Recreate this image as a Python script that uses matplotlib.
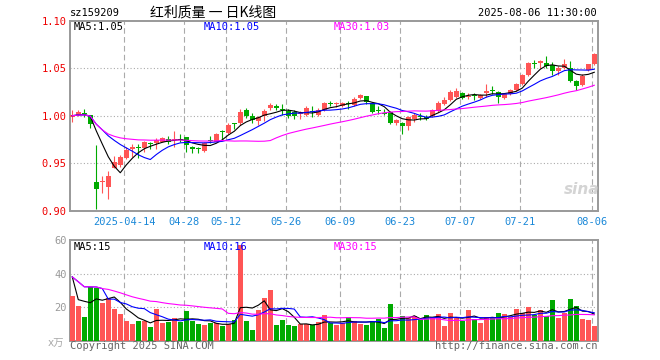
import numpy as np
import pandas as pd
import matplotlib
matplotlib.use('Agg')
import matplotlib.pyplot as plt

# trading days shown (Mar 31 -> Aug 6, 2025), exchange holidays removed
holidays = ['2025-04-04', '2025-05-01', '2025-05-02', '2025-05-05', '2025-06-02']
days = pd.bdate_range('2025-03-31', '2025-08-06')
days = days[~days.isin(pd.to_datetime(holidays))]

tick_dates = ['2025-04-14', '2025-04-28', '2025-05-12', '2025-05-26', '2025-06-09',
              '2025-06-23', '2025-07-07', '2025-07-21', '2025-08-06']
tick_labels = ['2025-04-14', '04-28', '05-12', '05-26', '06-09',
               '06-23', '07-07', '07-21', '08-06']

opens = [0.999, 1.001, 1.003, 1.001, 0.930, 0.930, 0.925, 0.945, 0.948, 0.956,
         0.965, 0.967, 0.966, 0.971, 0.971, 0.973, 0.976, 0.975, 0.976, 0.978,
         0.967, 0.966, 0.963, 0.975, 0.973, 0.984, 0.982, 0.992, 0.992, 1.006,
         1.000, 0.995, 1.000, 1.008, 1.010, 1.007, 1.005, 1.004, 1.002, 1.001,
         1.005, 1.001, 1.006, 1.013, 1.012, 1.010, 1.013, 1.011, 1.019, 1.021,
         1.013, 1.006, 1.003, 1.004, 0.992, 0.993, 0.989, 0.997, 1.000, 0.999,
         1.000, 1.005, 1.012, 1.017, 1.020, 1.024, 1.020, 1.022, 1.019, 1.024,
         1.027, 1.025, 1.019, 1.023, 1.027, 1.033, 1.043, 1.056, 1.056, 1.056,
         1.053, 1.047, 1.050, 1.050, 1.037, 1.032, 1.048, 1.054]
highs = [1.006, 1.006, 1.007, 1.001, 0.969, 0.937, 0.942, 0.958, 0.959, 0.967,
         0.970, 0.970, 0.974, 0.972, 0.977, 0.978, 0.979, 0.984, 0.981, 0.978,
         0.968, 0.967, 0.972, 0.979, 0.982, 0.985, 0.992, 0.993, 1.007, 1.008,
         1.003, 1.000, 1.007, 1.013, 1.012, 1.012, 1.007, 1.006, 1.005, 1.010,
         1.010, 1.008, 1.015, 1.016, 1.015, 1.015, 1.016, 1.020, 1.023, 1.021,
         1.014, 1.010, 1.007, 1.005, 0.997, 0.994, 1.000, 1.003, 1.003, 1.001,
         1.007, 1.016, 1.020, 1.027, 1.029, 1.025, 1.024, 1.024, 1.023, 1.033,
         1.031, 1.026, 1.024, 1.028, 1.034, 1.044, 1.057, 1.059, 1.059, 1.063,
         1.057, 1.052, 1.060, 1.058, 1.038, 1.044, 1.055, 1.066]
lows = [0.994, 1.000, 0.999, 0.987, 0.902, 0.919, 0.913, 0.945, 0.946, 0.955,
        0.957, 0.956, 0.962, 0.965, 0.965, 0.972, 0.970, 0.967, 0.973, 0.962,
        0.961, 0.961, 0.962, 0.971, 0.972, 0.975, 0.981, 0.986, 0.990, 0.998,
        0.992, 0.990, 0.995, 1.006, 1.006, 1.001, 0.998, 0.997, 0.997, 1.000,
        0.999, 1.000, 1.005, 1.010, 1.009, 1.009, 1.007, 1.010, 1.018, 1.012,
        1.003, 1.002, 1.001, 0.991, 0.990, 0.981, 0.985, 0.994, 0.996, 0.996,
        0.999, 1.004, 1.011, 1.016, 1.019, 1.018, 1.018, 1.017, 1.018, 1.020,
        1.023, 1.013, 1.018, 1.022, 1.026, 1.032, 1.042, 1.050, 1.050, 1.050,
        1.043, 1.043, 1.049, 1.036, 1.027, 1.031, 1.047, 1.053]
closes = [1.001, 1.004, 1.002, 0.991, 0.923, 0.932, 0.937, 0.952, 0.957, 0.964,
          0.967, 0.966, 0.973, 0.970, 0.975, 0.977, 0.973, 0.976, 0.975, 0.969,
          0.965, 0.965, 0.971, 0.974, 0.981, 0.983, 0.990, 0.991, 1.004, 1.000,
          0.996, 0.999, 1.005, 1.011, 1.008, 1.006, 1.000, 1.000, 1.003, 1.008,
          1.004, 1.006, 1.013, 1.012, 1.013, 1.013, 1.012, 1.018, 1.022, 1.015,
          1.004, 1.005, 1.002, 0.993, 0.996, 0.989, 0.999, 1.001, 0.999, 0.997,
          1.006, 1.013, 1.017, 1.025, 1.026, 1.019, 1.021, 1.021, 1.022, 1.026,
          1.026, 1.020, 1.023, 1.027, 1.033, 1.043, 1.056, 1.055, 1.058, 1.052,
          1.047, 1.050, 1.054, 1.037, 1.031, 1.042, 1.054, 1.065]
# volume in 万
volumes = [26.6, 20.7, 14.1, 31.8, 31.4, 22.6, 25.5, 18.9, 15.9, 11.7,
           9.9, 11.7, 11.7, 8.1, 18.9, 10.5, 11.1, 13.5, 11.1, 17.7,
           11.7, 9.9, 9.3, 10.5, 10.5, 8.7, 9.9, 12.3, 57.0, 11.7,
           6.4, 18.3, 25.4, 30.2, 9.3, 12.3, 9.3, 8.7, 9.9, 9.9,
           9.3, 11.1, 15.3, 10.3, 9.3, 10.3, 14.1, 11.9, 9.9, 9.3,
           11.7, 12.7, 7.5, 21.8, 9.9, 14.7, 13.3, 14.7, 12.9, 15.1,
           13.9, 15.9, 8.7, 16.7, 13.9, 11.9, 18.3, 12.7, 10.5, 14.3,
           13.9, 16.5, 15.9, 13.9, 18.9, 16.3, 20.1, 15.1, 18.3, 14.7,
           24.2, 13.5, 16.3, 24.8, 20.7, 12.9, 12.3, 8.7]
# the four sessions before the window (only feed the moving averages)
pre_close = [1.000, 1.000, 1.000, 1.000]
pre_vol = [88.5, 19.0, 36.0, 20.0]

RED = '#ff5555'
GREEN = '#00aa00'
GRID = '#aaaaaa'
MONO = ['DejaVu Sans Mono', 'Noto Sans CJK SC']
W, H = 660, 360

n = len(closes)
x = np.arange(n)
o, h, l, c = map(np.array, (opens, highs, lows, closes))
v = np.array(volumes)
up = c >= o
cols = np.where(up, RED, GREEN)

npre = len(pre_close)
cs = pd.Series(pre_close + closes)
vs = pd.Series(pre_vol + volumes)
ma = {k: cs.rolling(k, min_periods=1).mean().values[npre:] for k in (5, 10, 30)}
vma = {k: vs.rolling(k, min_periods=1).mean().values[npre:] for k in (5, 10, 30)}
ma_cols = {5: 'black', 10: '#0000ff', 30: '#ff00ff'}

tick_x = [list(days.strftime('%Y-%m-%d')).index(d) - 0.33 for d in tick_dates]

fig = plt.figure(figsize=(W / 100, H / 100), dpi=100)
fig.patch.set_facecolor('white')
ax = fig.add_axes([70 / W, 1 - 211 / H, 527.7 / W, 190.3 / H])
axv = fig.add_axes([70 / W, 1 - 340.7 / H, 527.7 / W, 100.7 / H])

xl = (-0.38, 87.57)

# watermark
fig.text(582 / W, 1 - 190 / H, 'sina', color='#d4d4d4', fontsize=11,
         fontweight='bold', style='italic', ha='center', va='center', zorder=0)

# price panel
for yy in (0.95, 1.00, 1.05):
    ax.axhline(yy, color=GRID, lw=0.8, ls=(0, (1, 2)), zorder=1)
for a in (ax, axv):
    for tx in tick_x:
        a.axvline(tx, color=GRID, lw=0.8, ls=(0, (5, 3)), zorder=1)

ax.vlines(x, l, h, colors=cols, lw=0.8, zorder=2)
body = np.maximum(np.abs(c - o), 0.0009)
ax.bar(x, body, bottom=np.minimum(o, c), width=0.78, color=cols, lw=0, zorder=3)
for k in (5, 10, 30):
    ax.plot(x, ma[k], color=ma_cols[k], lw=0.8, zorder=4)

ax.set_xlim(*xl)
ax.set_ylim(0.90, 1.10)
ax.set_yticks([0.90, 0.95, 1.00, 1.05, 1.10])
ax.set_yticklabels(['%.2f' % t for t in [0.90, 0.95, 1.00, 1.05, 1.10]],
                   color='#ee0000', fontsize=7.5, family=MONO)
ax.set_xticks(tick_x)
ax.set_xticklabels(tick_labels, color='#1a88d8', fontsize=7.5, family=MONO)
ax.tick_params(length=0, pad=2.5)
ax.tick_params(axis='x', pad=4)

# volume panel
for yy in (20, 40):
    axv.axhline(yy, color=GRID, lw=0.8, ls=(0, (1, 2)), zorder=1)
axv.bar(x, v, width=0.78, color=cols, lw=0, zorder=3)
for k in (5, 10, 30):
    axv.plot(x, vma[k], color=ma_cols[k], lw=0.8, zorder=4)
axv.set_xlim(*xl)
axv.set_ylim(0, 60)
axv.set_yticks([20, 40, 60])
axv.set_yticklabels(['20', '40', '60'], color='#999999', fontsize=7.5, family=MONO)
axv.set_xticks([])
axv.tick_params(length=0, pad=2.5)

for a in (ax, axv):
    for s in a.spines.values():
        s.set_color('#999999')
        s.set_linewidth(1.4)

# header / labels
def ftext(px, py, s, **kw):
    kw.setdefault('family', MONO)
    kw.setdefault('fontsize', 7.5)
    fig.text(px / W, 1 - py / H, s, va='center', **kw)

ftext(70, 13, 'sz159209', ha='left')
ftext(213, 13, '红利质量 一 日K线图', ha='center', fontsize=10,
      family=['Noto Sans CJK SC', 'DejaVu Sans'])
ftext(597, 13, '2025-08-06 11:30:00', ha='right')

ftext(74, 27, 'MA5:%.2f' % ma[5][-1], ha='left', color='black')
ftext(204, 27, 'MA10:%.2f' % ma[10][-1], ha='left', color='#0000ff')
ftext(334, 27, 'MA30:%.2f' % ma[30][-1], ha='left', color='#ff00ff')

ftext(74, 247, 'MA5:%d' % int(vma[5][-1]), ha='left', color='black')
ftext(204, 247, 'MA10:%d' % int(vma[10][-1]), ha='left', color='#0000ff')
ftext(334, 247, 'MA30:%d' % int(vma[30][-1]), ha='left', color='#ff00ff')

ftext(64, 344, 'x万', ha='right', color='#aaaaaa', family=['DejaVu Sans', 'Noto Sans CJK SC'])
ftext(70, 346, 'Copyright 2025 SINA.COM', ha='left', color='#666666')
ftext(597, 346, 'http://finance.sina.com.cn', ha='right', color='#666666')

fig.savefig('out.png', dpi=100, facecolor='white')
